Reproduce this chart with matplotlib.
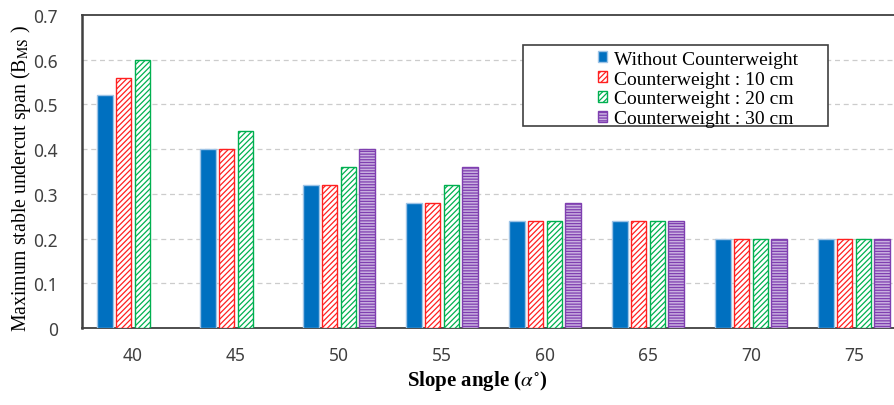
import numpy as np
import matplotlib
matplotlib.use("Agg")
import matplotlib.pyplot as plt
from matplotlib.patches import Rectangle

categories = ["40", "45", "50", "55", "60", "65", "70", "75"]
without_cw = [0.52, 0.40, 0.32, 0.28, 0.24, 0.24, 0.20, 0.20]
cw_10 = [0.56, 0.40, 0.32, 0.28, 0.24, 0.24, 0.20, 0.20]
cw_20 = [0.60, 0.44, 0.36, 0.32, 0.24, 0.24, 0.20, 0.20]
cw_30 = [np.nan, np.nan, 0.40, 0.36, 0.28, 0.24, 0.20, 0.20]
series_labels = ["Without Counterweight", "Counterweight : 10 cm",
                 "Counterweight : 20 cm", "Counterweight : 30 cm"]
yticks = [0, 0.1, 0.2, 0.3, 0.4, 0.5, 0.6, 0.7]

plt.rcParams['hatch.linewidth'] = 0.9
plt.rcParams['mathtext.fontset'] = 'stix'

W, H = 894, 406
fig = plt.figure(figsize=(W / 100, H / 100), dpi=100)
left = 81.5 / W
bottom = (H - 329) / H
ax = fig.add_axes([left, bottom, 824 / W, 313 / H])

x = np.arange(len(categories))
slot = 0.18
bw = 0.15
styles = [
    dict(facecolor="#0070C0", edgecolor="#9DC3E6", hatch=None),
    dict(facecolor="white", edgecolor="#FF2020", hatch="//////"),
    dict(facecolor="white", edgecolor="#00B050", hatch="//////"),
    dict(facecolor="#C9B0E0", edgecolor="#7F3FB0", hatch="------"),
]
data = [without_cw, cw_10, cw_20, cw_30]
handles = []
for i, (vals, st, lab) in enumerate(zip(data, styles, series_labels)):
    off = (i - 1.5) * slot
    b = ax.bar(x + off, np.array(vals, dtype=float), width=bw, label=lab,
               linewidth=1.0, zorder=3, **st)
    handles.append(b)

ax.set_xlim(-0.5, 7.5)
ax.set_ylim(0, 0.7)
ax.set_yticks(yticks)
ax.set_yticklabels(["0" if v == 0 else f"{v:.1f}" for v in yticks],
                   fontsize=12.5, family="Noto Sans", color="#404040")
ax.set_xticks(x)
ax.set_xticklabels(categories, fontsize=12.5, family="Noto Sans", color="#404040")
ax.tick_params(axis="x", length=0, pad=13)
ax.tick_params(axis="y", length=0, pad=17)
for yv in yticks[1:-1]:
    ax.axhline(yv, color="#CCCCCC", linestyle=(0, (4, 3)), linewidth=0.9, zorder=1)
for s in ["top", "bottom", "right"]:
    ax.spines[s].set_color("#404040")
    ax.spines[s].set_linewidth(1.3)
ax.spines["left"].set_color("#404040")
ax.spines["left"].set_linewidth(1.8)

ax.set_ylabel(r"Maximum stable undercut span (B$_{\mathrm{MS}}$ )",
              family="Liberation Serif", fontsize=14.2)
ax.yaxis.set_label_coords(-(81.5 - 33) / 824, (329 - 178) / 313)
fig.text(477 / W, 1 - 381 / H, r"Slope angle ($\alpha^{\circ}$)", ha="center", va="center",
         family="Liberation Serif", fontsize=15, fontweight="bold")

# legend frame
ax.add_patch(Rectangle((523 / W, 1 - 127 / H), (828 - 523) / W, (127 - 46) / H,
                       transform=fig.transFigure, facecolor="white",
                       edgecolor="#404040", linewidth=1.2, zorder=5, clip_on=False))
leg = ax.legend(handles=handles, loc="upper left",
                bbox_to_anchor=(586 / W, 1 - 40 / H), bbox_transform=fig.transFigure,
                frameon=False, prop=dict(family="Liberation Serif", size=14),
                handlelength=0.5, handleheight=0.5, handletextpad=0.35,
                labelspacing=0.15, borderpad=0.1)
leg.set_zorder(6)

fig.savefig("out.png", dpi=100)
